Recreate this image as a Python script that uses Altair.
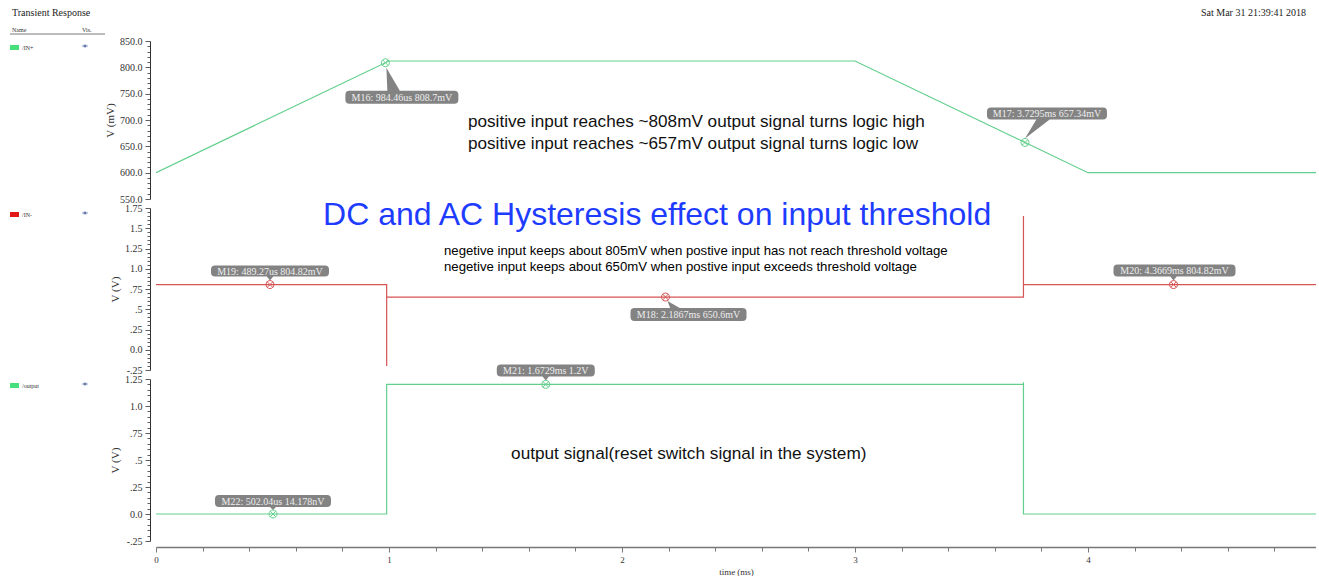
import altair as alt
import pandas as pd

# ------------------------------------------------------------------
# Waveforms (time in ms)
# ------------------------------------------------------------------
inp_t = [0.0, 1.0, 3.0, 4.0, 5.0]                      # /IN+
inp_mv = [600.0, 812.0, 812.0, 600.0, 600.0]

inn_t = [0.0, 0.99, 0.99, 0.99, 3.723, 3.723, 3.723, 5.0]   # /IN-
inn_v = [0.805, 0.805, -0.20, 0.6506, 0.6506, 1.65, 0.80482, 0.80482]

out_t = [0.0, 0.99, 0.99, 3.723, 3.723, 3.723, 5.0]          # /output
out_v = [0.0, 0.0, 1.2, 1.2, 1.22, 0.0, 0.0]

# Cursor markers
inp_mk = ["M16", "M17"]
inp_mk_t = [0.98446, 3.7295]
inp_mk_v = [808.7, 657.34]
inp_mk_lbl = ["M16: 984.46us 808.7mV", "M17: 3.7295ms 657.34mV"]

inn_mk = ["M19", "M18", "M20"]
inn_mk_t = [0.48927, 2.1867, 4.3669]
inn_mk_v = [0.80482, 0.6506, 0.80482]
inn_mk_lbl = ["M19: 489.27us 804.82mV", "M18: 2.1867ms 650.6mV", "M20: 4.3669ms 804.82mV"]

out_mk = ["M21", "M22"]
out_mk_t = [1.6729, 0.50204]
out_mk_v = [1.2, 14.178e-9]
out_mk_lbl = ["M21: 1.6729ms 1.2V", "M22: 502.04us 14.178nV"]

# Axis tick labels
inp_ticks = [850, 800, 750, 700, 650, 600, 550]
inp_tick_lbl = ["850.0", "800.0", "750.0", "700.0", "650.0", "600.0", "550.0"]
inn_ticks = [1.75, 1.5, 1.25, 1.0, 0.75, 0.5, 0.25, 0.0, -0.25]
inn_tick_lbl = ["1.75", "1.5", "1.25", "1.0", ".75", ".5", ".25", "0.0", "-.25"]
out_ticks = [1.25, 1.0, 0.75, 0.5, 0.25, 0.0, -0.25]
out_tick_lbl = ["1.25", "1.0", ".75", ".5", ".25", "0.0", "-.25"]
time_ticks = [0, 1, 2, 3, 4]
time_tick_lbl = ["0", "1", "2", "3", "4"]

# ------------------------------------------------------------------
# Styling / layout
# ------------------------------------------------------------------
SERIF = "Liberation Serif"
SANS = "Liberation Sans"
GREEN = "#62cf8c"
RED = "#d65454"
SW_GREEN = "#45e07c"
SW_RED = "#e01818"
BOX = "#7c7c7c"
W = 1160
H_TOP, H_MID, H_BOT = 158, 162, 162

# callout boxes, pixel offsets from the cursor point:
# (box x0, x1, y0, y1, pointer base x0, x1, base y, tip x, tip y)
CALLOUT = {
    "M16": (-40, 73, 28, 41, 2, 15, 28, 1, 5),
    "M17": (-38, 82, -35, -23, 12, 26, -23, 0, -4),
    "M19": (-59, 59, -19, -8, -4, 4, -8, 0, -4),
    "M18": (-35, 81, 11, 24, 5, 16, 11, 2, 4),
    "M20": (-60, 62, -20, -8, -4, 4, -8, 0, -4),
    "M21": (-49, 49, -20, -8, -4, 4, -8, 0, -4),
    "M22": (-58, 58, -19, -7, -4, 4, -7, 0, -4),
}

# free text: (t, v, text, size, colour)
NOTES_TOP = [
    (1.339, 696.2, "positive input reaches ~808mV output signal turns logic high", 17.15, "#111"),
    (1.339, 654.4, "positive input reaches ~657mV output signal turns logic low", 17.15, "#111"),
]
NOTES_MID = [
    (0.717, 1.664, "DC and AC Hysteresis effect on input threshold", 32.0, "#1e3cff"),
    (1.236, 1.219, "negetive input keeps about 805mV when postive input has not reach threshold voltage", 13.2, "#000"),
    (1.236, 1.022, "negetive input keeps about 650mV when postive input exceeds threshold voltage", 13.2, "#000"),
]
NOTES_BOT = [
    (1.524, 0.556, "output signal(reset switch signal in the system)", 17.2, "#111"),
]

X_SCALE = alt.Scale(domain=[0, W / 233.0], nice=False, zero=False)


def label_expr(vals, labels):
    e = "''"
    for v, s in zip(vals, labels):
        e = f"abs(datum.value - ({v})) < 1e-6 ? '{s}' : ({e})"
    return e


def major_test(vals):
    return " || ".join(f"abs(datum.value - ({v})) < 1e-6" for v in vals)


def y_axis(title, vals, labels, minor):
    return alt.Axis(
        values=minor, labelExpr=label_expr(vals, labels),
        tickSize={"condition": {"test": major_test(vals), "value": 5}, "value": 3},
        offset=6, title=title, grid=False, domainColor="#333", tickColor="#333",
        tickWidth=0.8, domainWidth=1, labelFont=SERIF, labelFontSize=10,
        labelColor="#333", labelPadding=3, labelOverlap=False, labelFlush=False,
        titleFont=SERIF, titleFontSize=11, titleFontWeight="normal",
        titleColor="#333", titlePadding=4,
    )


X_AXIS = alt.Axis(
    values=[round(0.2 * i, 1) for i in range(25)],
    labelExpr=label_expr(time_ticks, time_tick_lbl),
    tickSize={"condition": {"test": major_test(time_ticks), "value": 5}, "value": 4},
    offset=6, title="time (ms)", grid=False, domainColor="#777", domainWidth=1.5,
    tickColor="#555", tickWidth=0.8, labelFont=SERIF, labelFontSize=9,
    labelColor="#333", labelPadding=3, labelOverlap=False, labelFlush=False,
    titleFont=SERIF, titleFontSize=9, titleFontWeight="normal", titleColor="#333",
    titlePadding=3,
)


def callout_path(g):
    x0, x1, y0, y1, bx0, bx1, by, tx, ty = g
    r = 4
    box = (f"M{x0 + r},{y0} L{x1 - r},{y0} Q{x1},{y0} {x1},{y0 + r} "
           f"L{x1},{y1 - r} Q{x1},{y1} {x1 - r},{y1} L{x0 + r},{y1} "
           f"Q{x0},{y1} {x0},{y1 - r} L{x0},{y0 + r} Q{x0},{y0} {x0 + r},{y0} Z")
    # push the pointer base 1px into the box so the two shapes join
    byy = by + (1 if ty < by else -1)
    pts = [(bx0, byy), (bx1, byy), (tx, ty)]
    area = sum(pts[i][0] * pts[(i + 1) % 3][1] - pts[(i + 1) % 3][0] * pts[i][1] for i in range(3))
    if area < 0:
        pts = [pts[1], pts[0], pts[2]]
    tri = "M{},{} L{},{} L{},{} Z".format(*pts[0], *pts[1], *pts[2])
    return box + " " + tri


RING = ("M-4,0 A4,4 0 1,1 4,0 A4,4 0 1,1 -4,0 Z "
        "M-2.8,-2.8 L2.8,2.8 M-2.8,2.8 L2.8,-2.8")
EYE = "M-3.5,0 Q0,-3.4 3.5,0 Q0,3.4 -3.5,0 Z"


def panel(t, v, color, mk, mk_t, mk_v, mk_lbl, notes, yscale, yaxis, xaxis,
          height, name, swatch, header=False):
    X = alt.X("t:Q", scale=X_SCALE, axis=xaxis)
    Y = alt.Y("v:Q", scale=yscale, axis=yaxis)
    layers = []

    # the trace runs to 5 ms; clip it at the right edge of the plot
    wave = pd.DataFrame({"t": t, "v": v, "i": list(range(len(t)))})
    layers.append(alt.Chart(wave).mark_line(color=color, strokeWidth=1.2, clip=True)
                  .encode(x=X, y=Y, order="i:Q"))

    mdf = pd.DataFrame({"name": mk, "t": mk_t, "v": mk_v, "label": mk_lbl})
    for _, row in mdf.iterrows():
        g = CALLOUT[row["name"]]
        one = mdf[mdf["name"] == row["name"]]
        layers.append(alt.Chart(one).mark_point(
            shape=callout_path(g), size=4, filled=True, color=BOX,
            strokeWidth=0, opacity=0.95).encode(x=X, y=Y))
        layers.append(alt.Chart(one).mark_text(
            dx=(g[0] + g[1]) / 2, dy=(g[2] + g[3]) / 2 + 0.5, font=SERIF,
            fontSize=10, color="#eeeeee", align="center", baseline="middle")
            .encode(x=X, y=Y, text="label:N"))
    layers.append(alt.Chart(mdf).mark_point(
        shape=RING, size=4, filled=False, color=color, strokeWidth=1,
        opacity=1).encode(x=X, y=Y))

    for (nt, nv, txt, fs, fc) in notes:
        ndf = pd.DataFrame({"t": [nt], "v": [nv], "label": [txt]})
        layers.append(alt.Chart(ndf).mark_text(
            font=SANS, fontSize=fs, color=fc, align="left", baseline="middle")
            .encode(x=X, y=Y, text="label:N"))

    # signal list entry at the far left
    leg = pd.DataFrame({"label": [name]})
    layers.append(alt.Chart(leg).mark_rect(color=swatch).encode(
        x=alt.value(-146), x2=alt.value(-137), y=alt.value(4), y2=alt.value(9)))
    layers.append(alt.Chart(leg).mark_text(
        font=SERIF, fontSize=6, color="#333", align="left", baseline="middle")
        .encode(x=alt.value(-134), y=alt.value(6.5), text="label:N"))
    layers.append(alt.Chart(leg).mark_point(
        shape=EYE, size=4, filled=True, color="#b4bfd8", opacity=1)
        .encode(x=alt.value(-71), y=alt.value(5)))
    layers.append(alt.Chart(leg).mark_point(
        shape="circle", size=5, filled=True, color="#55659a", opacity=1)
        .encode(x=alt.value(-71), y=alt.value(5)))

    if header:
        hdr = pd.DataFrame({"label": ["Transient Response"]})
        layers.append(alt.Chart(hdr).mark_text(
            font=SERIF, fontSize=10, color="#222", align="left", baseline="middle")
            .encode(x=alt.value(-144), y=alt.value(-28), text="label:N"))
        date = pd.DataFrame({"label": ["Sat Mar 31 21:39:41 2018"]})
        layers.append(alt.Chart(date).mark_text(
            font=SERIF, fontSize=10, color="#222", align="left", baseline="middle")
            .encode(x=alt.value(1045), y=alt.value(-28), text="label:N"))
        cols = pd.DataFrame({"label": ["Name", "Vis."], "px": [-144, -74]})
        layers.append(alt.Chart(cols).mark_text(
            font=SERIF, fontSize=6, color="#333", align="left", baseline="middle")
            .encode(x=alt.X("px:Q", scale=None), y=alt.value(-11), text="label:N"))
        layers.append(alt.Chart(hdr).mark_rule(color="#555", strokeWidth=0.8)
                      .encode(x=alt.value(-146), x2=alt.value(-51), y=alt.value(-7)))

    return alt.layer(*layers).properties(width=W, height=height)


top = panel(
    inp_t, inp_mv, GREEN, inp_mk, inp_mk_t, inp_mk_v, inp_mk_lbl, NOTES_TOP,
    alt.Scale(domain=[550, 850], nice=False, zero=False),
    y_axis("V (mV)", inp_ticks, inp_tick_lbl, list(range(550, 851, 10))),
    None, H_TOP, "/IN+", SW_GREEN, header=True)

mid = panel(
    inn_t, inn_v, RED, inn_mk, inn_mk_t, inn_mk_v, inn_mk_lbl, NOTES_MID,
    alt.Scale(domain=[-0.25, 1.75], nice=False, zero=False),
    y_axis("V (V)", inn_ticks, inn_tick_lbl, [round(-0.25 + 0.05 * i, 2) for i in range(41)]),
    None, H_MID, "/IN-", SW_RED)

bot = panel(
    out_t, out_v, GREEN, out_mk, out_mk_t, out_mk_v, out_mk_lbl, NOTES_BOT,
    alt.Scale(domain=[-0.25, 1.25], nice=False, zero=False),
    y_axis("V (V)", out_ticks, out_tick_lbl, [round(-0.25 + 0.05 * i, 2) for i in range(31)]),
    X_AXIS, H_BOT, "/output", SW_GREEN)

chart = (
    alt.vconcat(top, mid, bot, spacing=9, bounds="flush")
    .resolve_scale(y="independent")
    .properties(padding={"left": 9, "top": 8, "right": 0, "bottom": 0},
                background="white")
    .configure_view(stroke=None)
)

chart.save("out.html", embed_options={"renderer": "svg", "actions": False})
